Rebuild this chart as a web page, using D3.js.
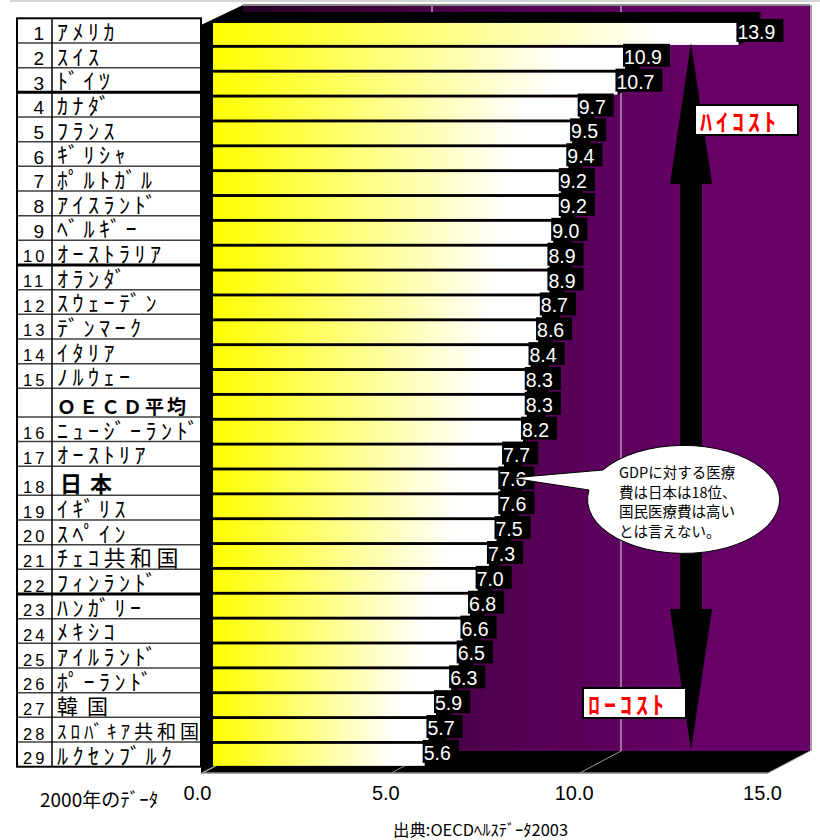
<!DOCTYPE html>
<html>
<head>
<meta charset="utf-8">
<script src="https://cdn.jsdelivr.net/npm/d3@7"></script>
<style>
body{margin:0;background:#fff;}
svg{display:block;}
</style>
</head>
<body>
<svg id="chart" width="820" height="840"></svg>
<script>
var ranks = ["1","2","3","4","5","6","7","8","9","10","11","12","13","14","15","","16","17","18","19","20","21","22","23","24","25","26","27","28","29"];
var countries = ["ｱﾒﾘｶ","ｽｲｽ","ﾄﾞｲﾂ","ｶﾅﾀﾞ","ﾌﾗﾝｽ","ｷﾞﾘｼｬ","ﾎﾟﾙﾄｶﾞﾙ","ｱｲｽﾗﾝﾄﾞ","ﾍﾞﾙｷﾞｰ","ｵｰｽﾄﾗﾘｱ",
	"ｵﾗﾝﾀﾞ","ｽｳｪｰﾃﾞﾝ","ﾃﾞﾝﾏｰｸ","ｲﾀﾘｱ","ﾉﾙｳｪｰ","ＯＥＣＤ平均","ﾆｭｰｼﾞｰﾗﾝﾄﾞ","ｵｰｽﾄﾘｱ","日本","ｲｷﾞﾘｽ",
	"ｽﾍﾟｲﾝ","ﾁｪｺ共和国","ﾌｨﾝﾗﾝﾄﾞ","ﾊﾝｶﾞﾘｰ","ﾒｷｼｺ","ｱｲﾙﾗﾝﾄﾞ","ﾎﾟｰﾗﾝﾄﾞ","韓国","ｽﾛﾊﾞｷｱ共和国","ﾙｸｾﾝﾌﾞﾙｸ"];
var values = [13.9,10.9,10.7,9.7,9.5,9.4,9.2,9.2,9.0,8.9,8.9,8.7,8.6,8.4,8.3,8.3,8.2,7.7,7.6,7.6,7.5,7.3,7.0,6.8,6.6,6.5,6.3,5.9,5.7,5.6];
var ticks = [0,5,10,15];
var note = ["GDPに対する医療","費は日本は18位、","国民医療費は高い","とは言えない。"];
var highLabel = "ﾊｲｺｽﾄ";
var lowLabel = "ﾛｰｺｽﾄ";
var yearNote = "2000年のﾃﾞｰﾀ";
var source = "出典:OECDﾍﾙｽﾃﾞｰﾀ2003";

var svg = d3.select('#chart');
var jp = '"Noto Sans CJK JP", sans-serif';
var ar = '"Liberation Sans", Arial, sans-serif';
var fmt = d3.format('.1f');

// 3d box: front floor edge, back wall and bar faces each get own x scale
var xFront = d3.scaleLinear().domain([0,15]).range([203,768]);
var xBack = d3.scaleLinear().domain([0,15]).range([243,810]);
var xBar = d3.scaleLinear().domain([0,15]).range([213,780]);
var yBar = d3.scaleBand().domain(d3.range(values.length)).range([21.5,767.3]).paddingInner(0.116).paddingOuter(0.058);
var wallTop = 5, wallBot = 751, floorBot = 773;
var ddx = 22, ddy = -11;

var defs = svg.append('defs');
var wg = defs.append('linearGradient').attr('id','wallGrad')
	.attr('gradientUnits','userSpaceOnUse').attr('x1',xBack(0)).attr('x2',xBack(15)).attr('y1',0).attr('y2',0);
wg.append('stop').attr('offset','0%').attr('stop-color','#2a0028');
wg.append('stop').attr('offset','45%').attr('stop-color','#510050');
wg.append('stop').attr('offset','80%').attr('stop-color','#660066');
var bg = defs.append('linearGradient').attr('id','barGrad').attr('x1',0).attr('x2',1).attr('y1',0).attr('y2',0);
bg.append('stop').attr('offset','0%').attr('stop-color','#ffff00');
bg.append('stop').attr('offset','85%').attr('stop-color','#ffffff');

// page top rule
svg.append('line').attr('x1',10).attr('x2',820).attr('y1',1).attr('y2',1)
	.attr('stroke','#d4d4d4').attr('stroke-width',2);

// back wall
svg.append('rect').attr('x',xBack(0)).attr('y',wallTop)
	.attr('width',xBack(15)-xBack(0)).attr('height',wallBot-wallTop).attr('fill','url(#wallGrad)');
svg.selectAll('.wgrid').data(ticks.slice(1,3)).enter().append('line')
	.attr('x1',function(d){return xBack(d);}).attr('x2',function(d){return xBack(d);})
	.attr('y1',wallTop).attr('y2',wallBot).attr('stroke','#e8e0e8').attr('stroke-width',1);
svg.append('line').attr('x1',xBack(0)).attr('x2',xBack(15)).attr('y1',wallTop).attr('y2',wallTop)
	.attr('stroke','#8a8a8a').attr('stroke-width',2);
svg.append('line').attr('x1',xBack(15)+1).attr('x2',xBack(15)+1).attr('y1',wallTop).attr('y2',wallBot)
	.attr('stroke','#a0a0a0').attr('stroke-width',2);

// floor
svg.append('polygon').attr('fill','#000')
	.attr('points',[[xFront(0),floorBot],[xFront(15),floorBot],[xBack(15),wallBot],[xBack(0),wallBot]].join(' '));
svg.selectAll('.fgrid').data(ticks).enter().append('line')
	.attr('x1',function(d){return xFront(d);}).attr('y1',floorBot)
	.attr('x2',function(d){return xBack(d);}).attr('y2',wallBot)
	.attr('stroke','#9a9a9a').attr('stroke-width',1);
svg.append('line').attr('x1',xFront(0)-2).attr('x2',xFront(15)).attr('y1',floorBot).attr('y2',floorBot)
	.attr('stroke','#8a8a8a').attr('stroke-width',1.5);

// left wall
svg.append('polygon').attr('fill','#000')
	.attr('points',[[201,25],[xBack(0),wallTop],[xBack(0),wallBot],[201,floorBot]].join(' '));

// bars, drawn from the bottom up so upper bars hide lower tops
var idx = d3.range(values.length).reverse();
var bars = svg.selectAll('.bar').data(idx).enter().append('g').attr('class','bar');
bars.append('polygon').attr('fill','#000').attr('points',function(i){
	var y = yBar(i), x0 = xBar(0), x1 = xBar(values[i]);
	return [[x0,y],[x1,y],[x1+ddx,y+ddy],[x0+ddx,y+ddy]].join(' ');
});
bars.append('polygon').attr('fill','#000').attr('points',function(i){
	var y = yBar(i), h = yBar.bandwidth(), x1 = xBar(values[i]);
	return [[x1,y],[x1+ddx,y+ddy],[x1+ddx,y+h+ddy],[x1,y+h]].join(' ');
});
bars.append('rect').attr('fill','url(#barGrad)')
	.attr('x',xBar(0)).attr('y',function(i){return yBar(i);})
	.attr('width',function(i){return xBar(values[i])-xBar(0);})
	.attr('height',yBar.bandwidth());

// value labels
var labs = svg.selectAll('.vlab').data(d3.range(values.length)).enter().append('g').attr('class','vlab');
labs.append('rect').attr('fill','#000');
labs.append('text').text(function(i){return fmt(values[i]);})
	.attr('x',function(i){return xBar(values[i])-1;})
	.attr('y',function(i){return yBar(i)+16;})
	.attr('fill','#fff').style('font-family',ar).style('font-size','19.5px');
labs.each(function(i){
	var g = d3.select(this);
	var w = g.select('text').node().getComputedTextLength();
	g.select('rect').attr('x',xBar(values[i])-2).attr('y',yBar(i)-4)
		.attr('width',w+9).attr('height',23);
});

// table
var rowW = countries.map(function(c){
	if(c=="日本"){return 1.18;}
	if(c.indexOf("ＯＥＣＤ")==0){return 1.16;}
	return 1;
});
var edges = [0];
rowW.forEach(function(w,i){edges.push(edges[i]+w);});
var ty = d3.scaleLinear().domain([0,edges[edges.length-1]]).range([18.3,766.7]);
var thick = [3,10,23];

var tbl = svg.append('g');
tbl.append('rect').attr('x',17).attr('y',ty(0)).attr('width',184).attr('height',ty.range()[1]-ty(0))
	.attr('fill','#fff');
tbl.selectAll('.hl').data(d3.range(1,countries.length)).enter().append('line')
	.attr('x1',17).attr('x2',201)
	.attr('y1',function(i){return ty(edges[i]);}).attr('y2',function(i){return ty(edges[i]);})
	.attr('stroke',function(i){return thick.indexOf(i)>=0 ? '#000' : '#404040';})
	.attr('stroke-width',function(i){return thick.indexOf(i)>=0 ? 3 : 1.5;});
tbl.append('line').attr('x1',52).attr('x2',52).attr('y1',ty(0)).attr('y2',ty.range()[1])
	.attr('stroke','#000').attr('stroke-width',1.5);
tbl.append('rect').attr('x',17).attr('y',ty(0)).attr('width',184).attr('height',ty.range()[1]-ty(0))
	.attr('fill','none').attr('stroke','#000').attr('stroke-width',2);

// rank numbers
tbl.selectAll('.rk').data(d3.range(ranks.length)).enter().append('text')
	.text(function(i){return ranks[i];})
	.attr('x',function(i){return ranks[i].length>1 ? 23 : 44;})
	.attr('y',function(i){return ty(edges[i+1])-2.5;})
	.attr('text-anchor',function(i){return ranks[i].length>1 ? 'start' : 'end';})
	.style('font-family',ar)
	.style('font-size',function(i){return ranks[i].length>1 ? '16.5px' : '19px';})
	.style('letter-spacing',function(i){return ranks[i].length>1 ? '3px' : '0px';});

// country names
tbl.selectAll('.nm').data(d3.range(countries.length)).enter().append('text')
	.text(function(i){return countries[i];})
	.attr('x',function(i){return countries[i]=="日本" ? 60 : 57;})
	.attr('y',function(i){return ty(edges[i+1])-3;})
	.style('font-family',jp)
	.each(function(i){
		var c = countries[i], t = d3.select(this);
		var fs = 22, ls = 4.5, fw = 'normal';
		if(c=="日本"){fs = 22; ls = 8; fw = 'bold';}
		else if(c=="韓国"){fs = 21; ls = 9;}
		else if(c.indexOf("ＯＥＣＤ")==0){fs = 19; ls = 3; fw = 'bold';}
		t.style('font-size',fs+'px').style('letter-spacing',ls+'px').style('font-weight',fw);
		var len = this.getComputedTextLength();
		if(len>146){
			var k = 146/len;
			t.style('font-size',(fs*k)+'px').style('letter-spacing',(ls*k)+'px');
		}
	});

// x axis labels under the front floor edge
var ax = svg.append('g').attr('transform','translate(-6,786)')
	.call(d3.axisBottom(xFront).tickValues(ticks).tickFormat(fmt).tickSize(0).tickPadding(0));
ax.select('.domain').remove();
ax.selectAll('text').style('font-family',ar).style('font-size','20px').attr('fill','#000');

// double arrow
svg.append('polygon').attr('fill','#000')
	.attr('points',[[691,43],[712,184],[702,184],[702,609],[712,609],[691,750],[670,609],[680,609],[680,184],[670,184]].join(' '));

// cost boxes
function costBox(x, y, label){
	var g = svg.append('g');
	g.append('rect').attr('x',x).attr('y',y).attr('width',103).attr('height',30)
		.attr('fill','#fff').attr('stroke','#000').attr('stroke-width',2);
	g.append('text').text(label).attr('x',x+5).attr('y',y+26)
		.attr('fill','#ff0000').style('font-family',jp).style('font-weight','bold')
		.style('font-size','24px').style('letter-spacing','4px');
}
costBox(695, 105, highLabel);
costBox(583, 688, lowLabel);

// speech bubble pointing at Japan
var bub = svg.append('g');
bub.append('path').attr('fill','#fff').attr('stroke','#000').attr('stroke-width',1)
	.attr('d','M511,478 L603,470 A96,54 0 1 1 589,490 Z');
bub.selectAll('text').data(note).enter().append('text')
	.text(function(d){return d;})
	.attr('x',619).attr('y',function(d,i){return 478+i*19.7;})
	.style('font-family',jp).style('font-size','14.5px').attr('fill','#000');

// footer notes
svg.append('text').text(yearNote).attr('x',40).attr('y',807)
	.style('font-family',jp).style('font-size','19px');
svg.append('text').text(source).attr('x',393).attr('y',836)
	.attr('textLength',175).attr('lengthAdjust','spacingAndGlyphs')
	.style('font-family',jp).style('font-size','16px');
</script>
</body>
</html>
